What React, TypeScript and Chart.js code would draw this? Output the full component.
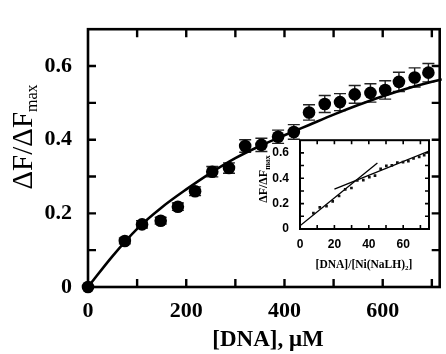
import React, { useEffect, useRef } from "react";
import { Chart, registerables } from "chart.js";
Chart.register(...registerables);

// ---- main plot data ----
const dnaConc = [0, 75, 110, 148, 183, 218, 253, 287, 320, 353, 387, 419, 450, 482, 513, 543, 575, 605, 633, 665, 693];
const deltaF = [0, 0.125, 0.17, 0.18, 0.218, 0.26, 0.313, 0.323, 0.383, 0.386, 0.408, 0.421, 0.474, 0.497, 0.502, 0.523, 0.527, 0.535, 0.557, 0.569, 0.582];
const deltaFErr = [0, 0.008, 0.01, 0.009, 0.01, 0.012, 0.014, 0.014, 0.017, 0.018, 0.018, 0.02, 0.021, 0.023, 0.023, 0.024, 0.025, 0.025, 0.026, 0.026, 0.025];
const fitX = [0, 50, 100, 150, 200, 250, 300, 350, 400, 450, 500, 550, 600, 650, 700, 720];
const fitY = [0, 0.084, 0.158, 0.216, 0.265, 0.31, 0.35, 0.383, 0.412, 0.44, 0.468, 0.494, 0.518, 0.539, 0.557, 0.564];
const mainXTickMarks = [100, 200, 300, 400, 500, 600, 700];
const mainYTickMarks = [0.1, 0.2, 0.3, 0.4, 0.5, 0.6];

// ---- inset data ----
const insetRatio = [7.8, 11.5, 15.4, 19, 22.7, 26.3, 29.9, 33.3, 36.8, 40.3, 43.6, 46.9, 50.2, 53.4, 56.6, 59.9, 63, 66, 69.3, 72.2];
const insetDeltaF = [0.125, 0.17, 0.18, 0.218, 0.26, 0.313, 0.323, 0.383, 0.386, 0.408, 0.421, 0.474, 0.497, 0.502, 0.523, 0.527, 0.535, 0.557, 0.569, 0.582];
const insetLineAX = [0, 45];
const insetLineAY = [0.025, 0.52];
const insetLineBX = [20, 75];
const insetLineBY = [0.315, 0.615];
const insetXTickMarks = [10, 20, 30, 40, 50, 60, 70];
const insetYTickMarks = [0.1, 0.2, 0.3, 0.4, 0.5, 0.6];

const SERIF = "'Liberation Serif', 'Times New Roman', serif";
const SANS = "'Liberation Sans', Arial, sans-serif";

const framePlugin = {
  id: "frameTicks",
  beforeDatasetsDraw(chart: any, _a: any, opts: any) {
    const { ctx, chartArea: a, scales } = chart;
    ctx.save();
    if (opts.fill) {
      ctx.fillStyle = opts.fill;
      ctx.fillRect(a.left, a.top, a.right - a.left, a.bottom - a.top);
    }
    ctx.strokeStyle = "#000";
    ctx.lineWidth = opts.tickWidth;
    ctx.beginPath();
    for (const v of opts.xTicks) {
      const p = scales.x.getPixelForValue(v);
      ctx.moveTo(p, a.bottom);
      ctx.lineTo(p, a.bottom - opts.len);
      ctx.moveTo(p, a.top);
      ctx.lineTo(p, a.top + opts.len);
    }
    for (const v of opts.yTicks) {
      const p = scales.y.getPixelForValue(v);
      ctx.moveTo(a.left, p);
      ctx.lineTo(a.left + opts.len, p);
      ctx.moveTo(a.right, p);
      ctx.lineTo(a.right - opts.len, p);
    }
    ctx.stroke();
    ctx.lineWidth = opts.frameWidth;
    ctx.strokeRect(a.left, a.top, a.right - a.left, a.bottom - a.top);
    ctx.restore();
  },
};

const errorBarPlugin = {
  id: "errBars",
  beforeDatasetsDraw(chart: any, _a: any, opts: any) {
    if (!opts || !opts.err) return;
    const { ctx, scales } = chart;
    ctx.save();
    ctx.strokeStyle = "#222";
    ctx.lineWidth = 1.4;
    ctx.beginPath();
    opts.xs.forEach((xv: number, i: number) => {
      const e = opts.err[i];
      if (!e) return;
      const px = scales.x.getPixelForValue(xv);
      const top = scales.y.getPixelForValue(opts.ys[i] + e);
      const bot = scales.y.getPixelForValue(opts.ys[i] - e);
      ctx.moveTo(px, top);
      ctx.lineTo(px, bot);
      ctx.moveTo(px - opts.cap, top);
      ctx.lineTo(px + opts.cap, top);
      ctx.moveTo(px - opts.cap, bot);
      ctx.lineTo(px + opts.cap, bot);
    });
    ctx.stroke();
    ctx.restore();
  },
};

const titlesPlugin = {
  id: "subTitles",
  afterDraw(chart: any, _a: any, opts: any) {
    const { ctx } = chart;
    for (const t of opts.items) {
      ctx.save();
      ctx.fillStyle = "#000";
      ctx.translate(t.x, t.y);
      if (t.rotate) ctx.rotate(-Math.PI / 2);
      ctx.textBaseline = "middle";
      ctx.textAlign = "left";
      ctx.font = t.font;
      const w1 = ctx.measureText(t.text).width;
      ctx.font = t.subFont || t.font;
      const w2 = t.sub ? ctx.measureText(t.sub).width : 0;
      ctx.font = t.font;
      const w3 = t.after ? ctx.measureText(t.after).width : 0;
      let x0 = -(w1 + w2 + w3) / 2;
      ctx.fillText(t.text, x0, 0);
      x0 += w1;
      if (t.sub) {
        ctx.font = t.subFont;
        ctx.fillText(t.sub, x0, t.subShift);
        x0 += w2;
      }
      if (t.after) {
        ctx.font = t.font;
        ctx.fillText(t.after, x0, 0);
      }
      ctx.restore();
    }
  },
};

function fmt(v: number) {
  const r = Math.round(v * 10) / 10;
  return r === 0 ? "0" : String(r);
}

export default function App() {
  const mainRef = useRef<HTMLCanvasElement>(null);
  const insetRef = useRef<HTMLCanvasElement>(null);

  useEffect(() => {
    document.body.style.margin = "0";
    const main = new Chart(mainRef.current as HTMLCanvasElement, {
      type: "scatter",
      data: {
        datasets: [
          {
            type: "line",
            data: fitX.map((x, i) => ({ x, y: fitY[i] })),
            borderColor: "#000",
            borderWidth: 2.6,
            pointRadius: 0,
            cubicInterpolationMode: "monotone",
            clip: false,
          } as any,
          {
            data: dnaConc.map((x, i) => ({ x, y: deltaF[i] })),
            backgroundColor: "#000",
            borderColor: "#000",
            pointRadius: 6.3,
            borderWidth: 0,
            clip: false,
          } as any,
        ],
      },
      options: {
        animation: false,
        responsive: false,
        events: [],
        layout: { padding: { top: 12, right: 3, left: 0, bottom: 0 } },
        plugins: {
          legend: { display: false },
          tooltip: { enabled: false },
          frameTicks: { xTicks: mainXTickMarks, yTicks: mainYTickMarks, len: 8, tickWidth: 2.4, frameWidth: 2.6 },
          errBars: { xs: dnaConc, ys: deltaF, err: deltaFErr, cap: 6 },
          subTitles: {
            items: [
              {
                text: "ΔF/ΔF",
                sub: "max",
                x: 24,
                y: 137,
                rotate: true,
                font: `29px ${SERIF}`,
                subFont: `16px ${SERIF}`,
                subShift: 9,
              },
              { text: "[DNA], μM", x: 268, y: 340, font: `bold 23px ${SERIF}` },
            ],
          },
        } as any,
        scales: {
          x: {
            type: "linear",
            min: 0,
            max: 716,
            grid: { display: false, drawTicks: false },
            border: { display: false },
            afterFit: (s: any) => {
              s.height = 67;
            },
            ticks: {
              stepSize: 200,
              includeBounds: false,
              padding: 11,
              color: "#000",
              font: { family: SERIF, size: 22, weight: "bold" },
              maxRotation: 0,
              callback: (v: any) => String(v),
            },
          },
          y: {
            type: "linear",
            min: 0,
            max: 0.7,
            grid: { display: false, drawTicks: false },
            border: { display: false },
            afterFit: (s: any) => {
              s.width = 88;
            },
            ticks: {
              stepSize: 0.2,
              includeBounds: false,
              padding: 16,
              color: "#000",
              font: { family: SERIF, size: 22, weight: "bold" },
              callback: (v: any) => fmt(Number(v)),
            },
          },
        },
      },
      plugins: [framePlugin, errorBarPlugin, titlesPlugin],
    });

    const inset = new Chart(insetRef.current as HTMLCanvasElement, {
      type: "scatter",
      data: {
        datasets: [
          {
            data: insetRatio.map((x, i) => ({ x, y: insetDeltaF[i] })),
            backgroundColor: "#111",
            borderColor: "#111",
            pointRadius: 1.9,
            pointStyle: "rect",
            borderWidth: 0,
          },
          {
            type: "line",
            data: insetLineAX.map((x, i) => ({ x, y: insetLineAY[i] })),
            borderColor: "#000",
            borderWidth: 1.3,
            pointRadius: 0,
          } as any,
          {
            type: "line",
            data: insetLineBX.map((x, i) => ({ x, y: insetLineBY[i] })),
            borderColor: "#000",
            borderWidth: 1.3,
            pointRadius: 0,
          } as any,
        ],
      },
      options: {
        animation: false,
        responsive: false,
        events: [],
        layout: { padding: { top: 9, right: 11, left: 0, bottom: 0 } },
        plugins: {
          legend: { display: false },
          tooltip: { enabled: false },
          frameTicks: { xTicks: insetXTickMarks, yTicks: insetYTickMarks, len: 4, tickWidth: 1.6, frameWidth: 2, fill: "#fff" },
          subTitles: {
            items: [
              {
                text: "ΔF/ΔF",
                sub: "max",
                x: 14,
                y: 57,
                rotate: true,
                font: `bold 12px ${SERIF}`,
                subFont: `bold 8px ${SERIF}`,
                subShift: 4,
              },
              {
                text: "[DNA]/[Ni(NaLH)",
                sub: "2",
                after: "]",
                x: 114,
                y: 143,
                font: `bold 11.5px ${SERIF}`,
                subFont: `bold 7px ${SERIF}`,
                subShift: 3,
              },
            ],
          },
        } as any,
        scales: {
          x: {
            type: "linear",
            min: 0,
            max: 75,
            grid: { display: false, drawTicks: false },
            border: { display: false },
            afterFit: (s: any) => {
              s.height = 48;
            },
            ticks: {
              stepSize: 20,
              includeBounds: false,
              padding: 8,
              color: "#000",
              font: { family: SANS, size: 12, weight: "bold" },
              maxRotation: 0,
              callback: (v: any) => String(v),
            },
          },
          y: {
            type: "linear",
            min: 0,
            max: 0.7,
            grid: { display: false, drawTicks: false },
            border: { display: false },
            afterFit: (s: any) => {
              s.width = 50;
            },
            ticks: {
              stepSize: 0.2,
              includeBounds: false,
              padding: 11,
              color: "#000",
              font: { family: SANS, size: 12, weight: "bold" },
              callback: (v: any) => fmt(Number(v)),
            },
          },
        },
      },
      plugins: [framePlugin, titlesPlugin],
    });

    return () => {
      main.destroy();
      inset.destroy();
    };
  }, []);

  return (
    <div style={{ position: "relative", width: 446, height: 354, background: "#fff" }}>
      <canvas ref={mainRef} width={446} height={354} style={{ position: "absolute", left: 0, top: 0 }} />
      <canvas ref={insetRef} width={190} height={155} style={{ position: "absolute", left: 250, top: 122 }} />
    </div>
  );
}
